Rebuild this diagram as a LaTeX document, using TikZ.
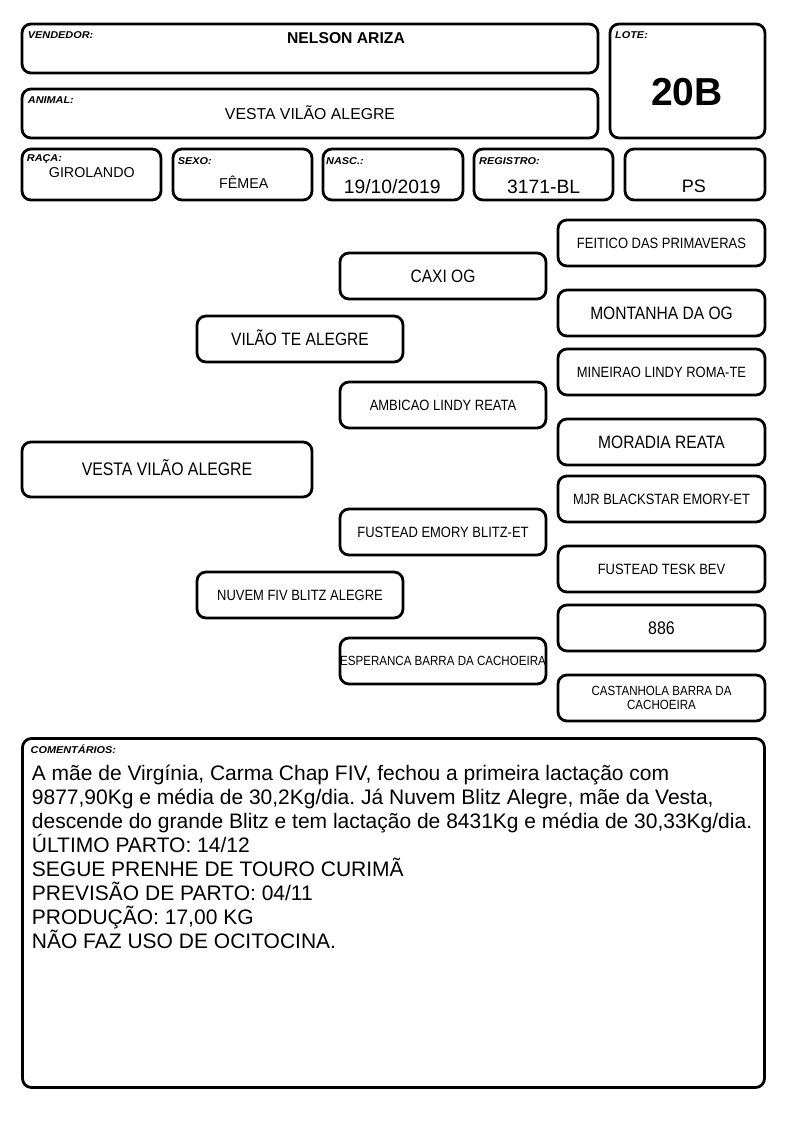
\documentclass[tikz,border=0pt]{standalone}
\usepackage{fontspec}
\setmainfont{Liberation Sans}
\newfontfamily\tagfont{Liberation Sans}[FakeStretch=1.1]
\newfontfamily\pedfont{Liberation Sans}[FakeStretch=0.87]
\usetikzlibrary{positioning}
\frenchspacing

\begin{document}
\begin{tikzpicture}[x=1pt,y=-1pt,
  box/.style={draw=black,line width=2.8pt,rounded corners=9pt,inner sep=0pt,outer sep=0pt},
  tag/.style={inner sep=0pt,font=\tagfont\fontsize{9.9}{11}\selectfont\bfseries\itshape},
  val/.style={inner sep=0pt,anchor=base,font=\fontsize{14.3}{17}\selectfont},
  pedbig/.style={box,minimum width=206pt,minimum height=46pt,text height=12.8pt,text depth=0pt,font=\pedfont\fontsize{17.9}{20}\selectfont},
  pedsmall/.style={pedbig,text height=10.7pt,font=\pedfont\fontsize{14.9}{17}\selectfont},
  pedtiny/.style={pedbig,text height=9.6pt,font=\pedfont\fontsize{13.3}{13.7}\selectfont}]
  \path[fill=white,use as bounding box] (0,0) rectangle (794,1123);

  % cabecalho
  \node[box,minimum width=576pt,minimum height=49pt] (vend) at (310,48.5) {};
  \node[box,minimum width=576pt,minimum height=49pt] (anim) at (310,113.5) {};
  \node[box,minimum width=155pt,minimum height=114pt] (lote) at (687.5,81) {};
  \node[box,minimum width=139pt,minimum height=51pt] (raca) at (91.5,174.5) {};
  \node[box,minimum width=139pt,minimum height=51pt] (sexo) at (242.5,174.5) {};
  \node[box,minimum width=140pt,minimum height=51pt] (nasc) at (393,174.5) {};
  \node[box,minimum width=139pt,minimum height=51pt] (regi) at (543.5,174.5) {};
  \node[box,minimum width=140pt,minimum height=51pt] (ps) at (695,174.5) {};

  \node[tag,below right=14.7pt and 5.7pt of vend.north west,anchor=base west] (vendtag) {VENDEDOR:};
  \node[tag,below right=14.3pt and 5.7pt of anim.north west,anchor=base west] (animtag) {ANIMAL:};
  \node[tag,below right=14.7pt and 5pt of lote.north west,anchor=base west] (lotetag) {LOTE:};
  \node[tag,below right=13pt and 4.7pt of raca.north west,anchor=base west] (racatag) {RAÇA:};
  \node[tag,below right=16pt and 4.7pt of sexo.north west,anchor=base west] (sexotag) {SEXO:};
  \node[tag,below right=16pt and 3pt of nasc.north west,anchor=base west] (nasctag) {NASC.:};
  \node[tag,below right=16pt and 5pt of regi.north west,anchor=base west] (regitag) {REGISTRO:};

  \node[val,font=\bfseries\fontsize{15.7}{18}\selectfont] (vendval) at (346,43.3) {NELSON ARIZA};
  \node[val,font=\fontsize{15.8}{18}\selectfont] (animval) at (310,119.3) {VESTA VILÃO ALEGRE};
  \node[val,font=\bfseries\fontsize{39}{44}\selectfont] (loteval) at (687,105.3) {20B};
  \node[val] (racaval) at (91.8,178) {GIROLANDO};
  \node[val] (sexoval) at (243.7,188.7) {FÊMEA};
  \node[val,font=\fontsize{19.3}{22}\selectfont] (nascval) at (392.2,193.3) {19/10/2019};
  \node[val,font=\fontsize{19.3}{22}\selectfont] (regival) at (543.7,193.3) {3171-BL};
  \node[val,font=\fontsize{18}{21}\selectfont] (psval) at (693.8,192.7) {PS};

  % genealogia
  \node[pedbig,minimum width=290pt,minimum height=55pt,font=\pedfont\fontsize{18.2}{20}\selectfont] (vesta) at (167,469.5) {VESTA VILÃO ALEGRE};
  \node[pedbig] (pai) at (300,339) {VILÃO TE ALEGRE};
  \node[pedsmall] (mae) at (300,595) {NUVEM FIV BLITZ ALEGRE};
  \node[pedbig] (pp) at (443,276) {CAXI OG};
  \node[pedsmall] (pm) at (443,405) {AMBICAO LINDY REATA};
  \node[pedsmall] (mp) at (443,532) {FUSTEAD EMORY BLITZ-ET};
  \node[pedtiny] (mm) at (443,661) {ESPERANCA BARRA DA CACHOEIRA};
  \node[pedsmall,minimum width=207pt] (ppp) at (661.5,243) {FEITICO DAS PRIMAVERAS};
  \node[pedbig,minimum width=207pt] (ppm) at (661.5,313) {MONTANHA DA OG};
  \node[pedsmall,minimum width=207pt] (pmp) at (661.5,372) {MINEIRAO LINDY ROMA-TE};
  \node[pedbig,minimum width=207pt] (pmm) at (661.5,442) {MORADIA REATA};
  \node[pedsmall,minimum width=207pt] (mpp) at (661.5,499) {MJR BLACKSTAR EMORY-ET};
  \node[pedsmall,minimum width=207pt] (mpm) at (661.5,569) {FUSTEAD TESK BEV};
  \node[pedbig,minimum width=207pt,font=\pedfont\fontsize{18.3}{20}\selectfont] (mmp) at (661.5,628) {886};
  \node[pedtiny,minimum width=207pt,align=center,text height={}] (mmm) at (661.5,698) {CASTANHOLA BARRA DA\\CACHOEIRA};

  % comentarios
  \node[box,minimum width=742pt,minimum height=349pt] (coment) at (393.5,913) {};
  \node[tag,below right=14.7pt and 8pt of coment.north west,anchor=base west] (comenttag) {COMENTÁRIOS:};
  \node[inner sep=0pt,anchor=base west,font=\fontsize{21}{24}\selectfont] (comentval) at (31.7,780.7)
    {\parbox[t]{760pt}{\raggedright
      A mãe de Virgínia, Carma Chap FIV, fechou a primeira lactação com\\
      9877,90Kg e média de 30,2Kg/dia. Já Nuvem Blitz Alegre, mãe da Vesta,\\
      descende do grande Blitz e tem lactação de 8431Kg e média de 30,33Kg/dia.\\
      ÚLTIMO PARTO: 14/12\\
      SEGUE PRENHE DE TOURO CURIMÃ\\
      PREVISÃO DE PARTO: 04/11\\
      PRODUÇÃO: 17,00 KG\\
      NÃO FAZ USO DE OCITOCINA.}};
\end{tikzpicture}
\end{document}
